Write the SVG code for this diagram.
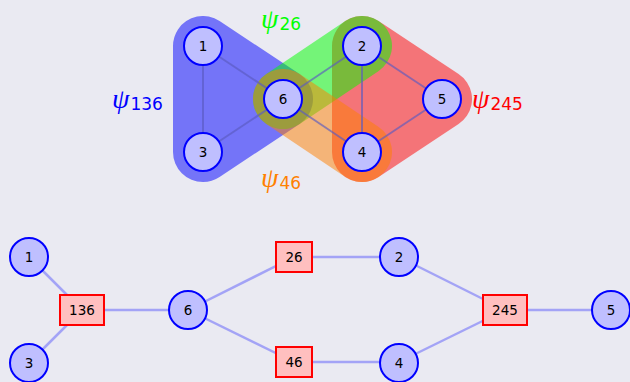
<svg xmlns="http://www.w3.org/2000/svg" width="630" height="382" viewBox="0 0 630 382">
<defs>
<style>
.bg{fill:#eaeaf2}
.node circle{fill:#bfbfff;stroke:#0000ff;stroke-width:2}
.fac rect{fill:#ffbfbf;stroke:#ff0000;stroke-width:2}
.lbl{font-family:"DejaVu Sans",sans-serif;font-size:13.5px;fill:#000;text-anchor:middle;dominant-baseline:central}
.tedge line{stroke:#5a5ac0;stroke-opacity:0.65;stroke-width:2}
.bedge line{stroke:#0000ff;stroke-opacity:0.3;stroke-width:2.5}
.psi{font-family:"Liberation Serif",serif;font-style:italic;font-size:28px}
.sub{font-family:"DejaVu Sans",sans-serif;font-size:17px;font-style:normal}
</style>
</defs>
<rect class="bg" x="0" y="0" width="630" height="382"/>

<g id="hyperedges">
<g id="h136" opacity="0.5"><polygon points="203,46 203,152 283,99" fill="#0000ff" stroke="#0000ff" stroke-width="60" stroke-linejoin="round"/></g>
<g id="h245" opacity="0.5"><polygon points="362,46 362,152 442,99" fill="#ff0000" stroke="#ff0000" stroke-width="60" stroke-linejoin="round"/></g>
<g id="h26" opacity="0.5"><line x1="283" y1="99" x2="362" y2="46" stroke="#00ff00" stroke-width="60" stroke-linecap="round"/></g>
<g id="h46" opacity="0.5"><line x1="283" y1="99" x2="362" y2="152" stroke="#ff8000" stroke-width="60" stroke-linecap="round"/></g>
</g>

<g id="hlabels">
<text class="psi" x="112" y="108" fill="#0000ff">ψ<tspan class="sub" dx="1" dy="2">136</tspan></text>
<text class="psi" x="261" y="28" fill="#00ff00">ψ<tspan class="sub" dx="1" dy="2">26</tspan></text>
<text class="psi" x="261" y="187" fill="#ff8000">ψ<tspan class="sub" dx="1" dy="2">46</tspan></text>
<text class="psi" x="472" y="108" fill="#ff0000">ψ<tspan class="sub" dx="1" dy="2">245</tspan></text>
</g>

<g id="top-connectors" class="tedge">
<line x1="203" y1="46" x2="203" y2="152"/>
<line x1="203" y1="46" x2="283" y2="99"/>
<line x1="203" y1="152" x2="283" y2="99"/>
<line x1="283" y1="99" x2="362" y2="46"/>
<line x1="283" y1="99" x2="362" y2="152"/>
<line x1="362" y1="46" x2="362" y2="152"/>
<line x1="362" y1="46" x2="442" y2="99"/>
<line x1="362" y1="152" x2="442" y2="99"/>
</g>

<g id="t1" class="node"><circle cx="203" cy="46" r="19"/><text class="lbl" x="203" y="46">1</text></g>
<g id="t3" class="node"><circle cx="203" cy="152" r="19"/><text class="lbl" x="203" y="152">3</text></g>
<g id="t6" class="node"><circle cx="283" cy="99" r="19"/><text class="lbl" x="283" y="99">6</text></g>
<g id="t2" class="node"><circle cx="362" cy="46" r="19"/><text class="lbl" x="362" y="46">2</text></g>
<g id="t4" class="node"><circle cx="362" cy="152" r="19"/><text class="lbl" x="362" y="152">4</text></g>
<g id="t5" class="node"><circle cx="442" cy="99" r="19"/><text class="lbl" x="442" y="99">5</text></g>

<g id="bottom-connectors" class="bedge">
<line x1="29" y1="257" x2="82" y2="310"/>
<line x1="29" y1="363" x2="82" y2="310"/>
<line x1="82" y1="310" x2="188" y2="310"/>
<line x1="188" y1="310" x2="294" y2="257"/>
<line x1="188" y1="310" x2="294" y2="362"/>
<line x1="294" y1="257" x2="399" y2="257"/>
<line x1="294" y1="362" x2="399" y2="362"/>
<line x1="399" y1="257" x2="505" y2="310"/>
<line x1="399" y1="362" x2="505" y2="310"/>
<line x1="505" y1="310" x2="611" y2="310"/>
</g>

<g id="b1" class="node"><circle cx="29" cy="257" r="19"/><text class="lbl" x="29" y="257">1</text></g>
<g id="b3" class="node"><circle cx="29" cy="363" r="19"/><text class="lbl" x="29" y="363">3</text></g>
<g id="b6" class="node"><circle cx="188" cy="310" r="19"/><text class="lbl" x="188" y="310">6</text></g>
<g id="b2" class="node"><circle cx="399" cy="257" r="19"/><text class="lbl" x="399" y="257">2</text></g>
<g id="b4" class="node"><circle cx="399" cy="363" r="19"/><text class="lbl" x="399" y="363">4</text></g>
<g id="b5" class="node"><circle cx="611" cy="310" r="19"/><text class="lbl" x="611" y="310">5</text></g>

<g id="f136" class="fac"><rect x="60" y="295" width="44" height="30"/><text class="lbl" x="82" y="310">136</text></g>
<g id="f26" class="fac"><rect x="276" y="242" width="36" height="30"/><text class="lbl" x="294" y="257">26</text></g>
<g id="f46" class="fac"><rect x="276" y="347" width="36" height="30"/><text class="lbl" x="294" y="362">46</text></g>
<g id="f245" class="fac"><rect x="483" y="295" width="44" height="30"/><text class="lbl" x="505" y="310">245</text></g>
</svg>
